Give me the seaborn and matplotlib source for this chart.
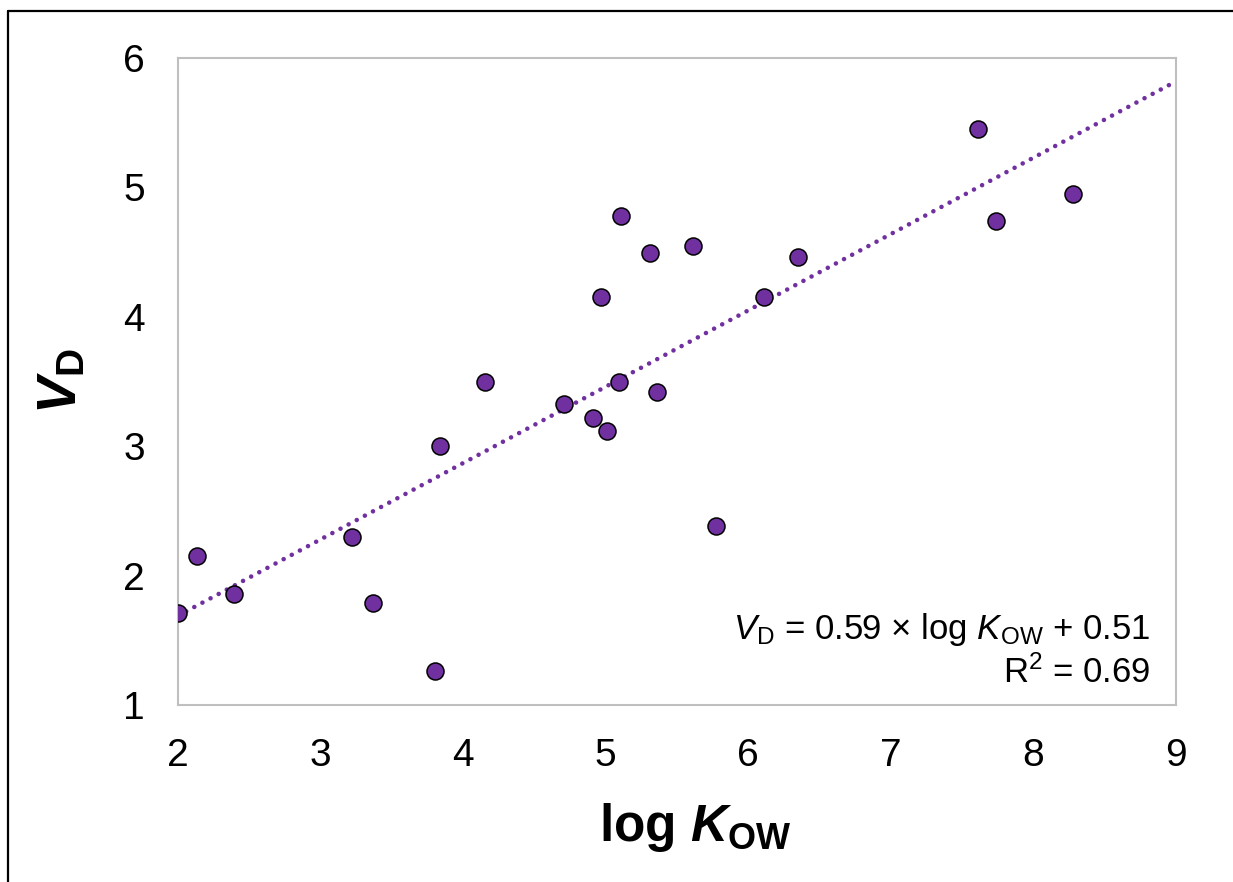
import numpy as np
import pandas as pd
import matplotlib
matplotlib.use("Agg")
import matplotlib.pyplot as plt
from matplotlib.lines import Line2D
import seaborn as sns

# Données
log_kow = [2.00, 2.13, 2.39, 3.22, 3.37, 3.80, 3.84, 4.15, 4.71, 4.91, 4.97, 5.01,
           5.09, 5.11, 5.31, 5.36, 5.61, 5.77, 6.11, 6.35, 7.61, 7.74, 8.28]
vd = [1.71, 2.15, 1.86, 2.30, 1.79, 1.26, 3.00, 3.50, 3.33, 3.22, 4.15, 3.12,
      3.50, 4.78, 4.49, 3.42, 4.55, 2.38, 4.15, 4.46, 5.45, 4.74, 4.95]
slope = 0.59
intercept = 0.51
x_ticks = [2, 3, 4, 5, 6, 7, 8, 9]
y_ticks = [1, 2, 3, 4, 5, 6]

purple = "#7030A0"

sns.set_style("white")
plt.rcParams["font.family"] = ["Liberation Sans", "DejaVu Sans"]
plt.rcParams["text.color"] = "black"
plt.rcParams["axes.labelcolor"] = "black"
plt.rcParams["xtick.color"] = "black"
plt.rcParams["ytick.color"] = "black"
plt.rcParams["mathtext.fontset"] = "custom"
plt.rcParams["mathtext.rm"] = "Liberation Sans"
plt.rcParams["mathtext.it"] = "Liberation Sans:italic"
plt.rcParams["mathtext.bf"] = "Liberation Sans:bold"
plt.rcParams["mathtext.bfit"] = "Liberation Sans:bold:italic"

df = pd.DataFrame({"log_kow": log_kow, "vd": vd})

fig = plt.figure(figsize=(12.33, 8.82), dpi=100)
ax = fig.add_axes([0.1444, 0.2007, 0.8094, 0.7335])

# Droite de tendance
xs = np.array([x_ticks[0], x_ticks[-1]])
ax.plot(xs, slope * xs + intercept, color=purple, lw=3.3,
        linestyle=(0, (0.01, 2.0)), dash_capstyle="round", zorder=1)

sns.scatterplot(data=df, x="log_kow", y="vd", ax=ax, color=purple, s=150,
                edgecolor="black", linewidth=1.1, zorder=3)

ax.set_xlim(2, 9)
ax.set_ylim(1, 6)
ax.set_xticks(x_ticks)
ax.set_yticks(y_ticks)
ax.tick_params(axis="both", length=0, labelsize=28, pad=24)
for s in ax.spines.values():
    s.set_color("#bfbfbf")
    s.set_linewidth(1.5)

ax.set_xlabel(r"log $\mathbfit{K}_{\mathbf{OW}}$", fontsize=37, fontweight="bold")
ax.xaxis.set_label_coords(0.518, -0.148)
ax.set_ylabel(r"$\mathbfit{V}_{\mathbf{D}}$", fontsize=40, fontweight="bold")
ax.yaxis.set_label_coords(-0.09, 0.5)

ax.text(0.974, 0.117,
        r"$\mathit{V}_{\mathrm{D}}$ = 0.59 × log $\mathit{K}_{\mathrm{OW}}$ + 0.51",
        transform=ax.transAxes, ha="right", va="center", fontsize=25)
ax.text(0.974, 0.05, r"R$^2$ = 0.69",
        transform=ax.transAxes, ha="right", va="center", fontsize=25)

# Cadre de la figure (haut et gauche)
fig.add_artist(Line2D([8 / 1233, 1.0], [1 - 11 / 882, 1 - 11 / 882], color="black", lw=1.6))
fig.add_artist(Line2D([8 / 1233, 8 / 1233], [0.0, 1 - 11 / 882], color="black", lw=1.6))

fig.savefig("out.png", dpi=100)
